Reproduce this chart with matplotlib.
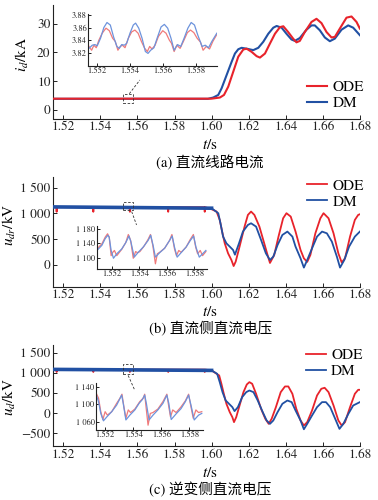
import matplotlib
matplotlib.use('Agg')
import matplotlib.pyplot as plt
import numpy as np

plt.rcParams['font.family'] = ['STIXGeneral', 'Noto Sans CJK SC']
plt.rcParams['mathtext.fontset'] = 'stix'

RED = '#e8232b'
BLUE = '#2150a3'
RED_L = '#f07a7a'
BLUE_L = '#6d93dc'

# ---- (a) dc line current, kA ----
t_a_ode = [1.5146, 1.6000, 1.6045, 1.6067, 1.6090, 1.6117, 1.6144, 1.6171, 1.6189, 1.6216,
           1.6243, 1.6261, 1.6288, 1.6315, 1.6342, 1.6369, 1.6387, 1.6413, 1.6440, 1.6458,
           1.6476, 1.6503, 1.6539, 1.6566, 1.6593, 1.6620, 1.6647, 1.6665, 1.6692, 1.6728,
           1.6755, 1.6782, 1.6800]
i_a_ode = [3.9, 3.9, 4.3, 5.2, 8.1, 13.3, 18.5, 21.0, 21.3, 20.2,
           18.7, 18.2, 19.6, 23.1, 26.5, 28.8, 29.1, 27.1, 24.8, 23.5,
           24.0, 27.1, 30.6, 31.7, 30.2, 27.1, 25.2, 25.4, 28.3, 32.1,
           32.5, 30.6, 28.3]
t_a_dm = [1.5146, 1.5980, 1.6009, 1.6036, 1.6054, 1.6081, 1.6108, 1.6126, 1.6144, 1.6162,
          1.6189, 1.6225, 1.6252, 1.6279, 1.6306, 1.6333, 1.6351, 1.6378, 1.6404, 1.6431,
          1.6449, 1.6476, 1.6512, 1.6539, 1.6557, 1.6584, 1.6611, 1.6638, 1.6665, 1.6701,
          1.6737, 1.6764, 1.6800]
i_a_dm = [3.85, 3.85, 4.3, 5.2, 7.5, 12.1, 16.7, 19.6, 21.1, 21.6,
          21.3, 20.8, 21.6, 23.7, 26.5, 28.6, 29.2, 28.6, 26.5, 24.5,
          24.0, 25.0, 27.9, 29.4, 29.4, 27.7, 25.2, 23.9, 24.8, 27.9,
          29.4, 28.6, 26.0]

# inset (a)
ti_a_dm = [1.55154, 1.55174, 1.55190, 1.55204, 1.55224, 1.55244, 1.55263, 1.55283, 1.55303, 1.55323,
           1.55337, 1.55352, 1.55368, 1.55382, 1.55402, 1.55422, 1.55436, 1.55455, 1.55475, 1.55495,
           1.55511, 1.55527, 1.55547, 1.55566, 1.55590, 1.55610, 1.55630, 1.55650, 1.55669, 1.55689,
           1.55709, 1.55729, 1.55752, 1.55772, 1.55792, 1.55812, 1.55838, 1.55857, 1.55877, 1.55897,
           1.55927]
vi_a_dm = [3.827, 3.832, 3.833, 3.831, 3.843, 3.860, 3.868, 3.864, 3.845, 3.830,
           3.827, 3.833, 3.832, 3.835, 3.851, 3.864, 3.867, 3.859, 3.843, 3.822,
           3.819, 3.824, 3.828, 3.843, 3.861, 3.865, 3.859, 3.843, 3.824, 3.833,
           3.830, 3.843, 3.859, 3.868, 3.864, 3.848, 3.830, 3.832, 3.828, 3.838,
           3.851]
ti_a_ode = [1.55154, 1.55170, 1.55184, 1.55198, 1.55214, 1.55234, 1.55257, 1.55277, 1.55297, 1.55313,
            1.55329, 1.55343, 1.55356, 1.55372, 1.55392, 1.55412, 1.55432, 1.55451, 1.55471, 1.55491,
            1.55507, 1.55521, 1.55535, 1.55554, 1.55574, 1.55600, 1.55620, 1.55640, 1.55653, 1.55669,
            1.55685, 1.55705, 1.55725, 1.55749, 1.55768, 1.55788, 1.55808, 1.55828, 1.55844, 1.55863,
            1.55883, 1.55903, 1.55927]
vi_a_ode = [3.830, 3.824, 3.832, 3.828, 3.840, 3.851, 3.859, 3.855, 3.843, 3.838,
            3.824, 3.830, 3.832, 3.828, 3.843, 3.853, 3.856, 3.851, 3.838, 3.827,
            3.822, 3.830, 3.826, 3.832, 3.846, 3.855, 3.851, 3.840, 3.835, 3.822,
            3.832, 3.827, 3.838, 3.852, 3.856, 3.852, 3.843, 3.837, 3.824, 3.830,
            3.826, 3.838, 3.849]

# ---- (b) rectifier dc voltage, kV ----
t_b_ode = [1.5146, 1.5162, 1.5164, 1.5166, 1.5360, 1.5362, 1.5364, 1.5557, 1.5559, 1.5561,
           1.5764, 1.5766, 1.5768, 1.5961, 1.5963, 1.5965,
           1.6000, 1.6027, 1.6044, 1.6059, 1.6071, 1.6089, 1.6107, 1.6119, 1.6130, 1.6151,
           1.6178, 1.6196, 1.6213, 1.6231, 1.6258, 1.6284, 1.6302, 1.6315, 1.6338, 1.6361,
           1.6386, 1.6404, 1.6427, 1.6453, 1.6480, 1.6498, 1.6516, 1.6533, 1.6560, 1.6587,
           1.6604, 1.6631, 1.6658, 1.6684, 1.6702, 1.6720, 1.6747, 1.6773, 1.6791, 1.6800]
u_b_ode = [1120, 1120, 1030, 1120, 1120, 1030, 1120, 1120, 1030, 1120,
           1120, 1030, 1120, 1120, 1030, 1120,
           1080, 1035, 873, 614, 420, 226, 97, -20, 65, 356,
           744, 970, 1035, 970, 744, 420, 194, 40, 194, 550,
           905, 1003, 938, 647, 291, 129, 60, 194, 614, 905,
           1003, 905, 614, 226, 50, 129, 550, 873, 970, 983]
t_b_dm = [1.5146, 1.6000, 1.6036, 1.6048, 1.6062, 1.6080, 1.6098, 1.6116, 1.6126, 1.6148,
          1.6169, 1.6196, 1.6213, 1.6240, 1.6267, 1.6293, 1.6315, 1.6333, 1.6356, 1.6382,
          1.6409, 1.6436, 1.6453, 1.6480, 1.6498, 1.6516, 1.6542, 1.6569, 1.6596, 1.6622,
          1.6649, 1.6676, 1.6693, 1.6716, 1.6742, 1.6773, 1.6800]
u_b_dm = [1125, 1100, 1003, 808, 550, 420, 356, 291, 200, 420,
          647, 776, 808, 744, 485, 226, 97, 162, 388, 582,
          647, 550, 356, 129, -50, 97, 323, 550, 647, 614,
          453, 162, -50, 97, 356, 550, 647]

# inset (b)
ti_b_dm = [1.55092, 1.55128, 1.55152, 1.55171, 1.55181, 1.55195, 1.55212, 1.55236, 1.55272, 1.55301,
           1.55325, 1.55339, 1.55363, 1.55392, 1.55428, 1.55464, 1.55483, 1.55500, 1.55517, 1.55548,
           1.55584, 1.55620, 1.55639, 1.55656, 1.55675, 1.55704, 1.55740, 1.55771, 1.55795, 1.55812,
           1.55836, 1.55860, 1.55884]
vi_b_dm = [1121, 1135, 1153, 1162, 1157, 1121, 1100, 1112, 1125, 1142,
           1160, 1144, 1103, 1116, 1130, 1148, 1162, 1135, 1103, 1115,
           1127, 1148, 1160, 1130, 1103, 1115, 1130, 1148, 1160, 1130,
           1103, 1112, 1121]
ti_b_ode = [1.55092, 1.55128, 1.55152, 1.55169, 1.55181, 1.55195, 1.55207, 1.55219, 1.55236, 1.55272,
            1.55301, 1.55320, 1.55337, 1.55356, 1.55373, 1.55387, 1.55404, 1.55435, 1.55464, 1.55481,
            1.55498, 1.55517, 1.55531, 1.55548, 1.55584, 1.55620, 1.55637, 1.55656, 1.55670, 1.55687,
            1.55704, 1.55740, 1.55771, 1.55793, 1.55810, 1.55824, 1.55843, 1.55860, 1.55884]
vi_b_ode = [1125, 1139, 1157, 1166, 1157, 1107, 1116, 1121, 1107, 1124,
            1142, 1164, 1148, 1100, 1118, 1115, 1118, 1133, 1151, 1164,
            1135, 1085, 1112, 1116, 1127, 1148, 1164, 1125, 1107, 1121,
            1116, 1130, 1151, 1164, 1130, 1112, 1121, 1107, 1118]

# ---- (c) inverter dc voltage, kV ----
t_c_ode = [1.5146, 1.5162, 1.5164, 1.5166, 1.5360, 1.5362, 1.5364, 1.5557, 1.5559, 1.5561,
           1.5764, 1.5766, 1.5768, 1.5961, 1.5963, 1.5965,
           1.6000, 1.6027, 1.6041, 1.6053, 1.6066, 1.6080, 1.6098, 1.6112, 1.6121, 1.6133,
           1.6151, 1.6172, 1.6190, 1.6204, 1.6219, 1.6240, 1.6267, 1.6290, 1.6308, 1.6324,
           1.6347, 1.6373, 1.6396, 1.6414, 1.6436, 1.6457, 1.6480, 1.6498, 1.6516, 1.6542,
           1.6569, 1.6592, 1.6610, 1.6631, 1.6658, 1.6684, 1.6702, 1.6720, 1.6747, 1.6773,
           1.6791, 1.6800]
u_c_ode = [1080, 1080, 1020, 1080, 1080, 1020, 1080, 1080, 1020, 1080,
           1080, 1020, 1080, 1080, 1020, 1080,
           1060, 976, 935, 728, 480, 232, 25, -99, -223, -99,
           190, 521, 711, 769, 728, 480, 108, -141, -265, -141,
           149, 521, 662, 662, 480, 108, -182, -306, -223, 66,
           438, 604, 629, 521, 190, -182, -306, -223, 149, 480,
           579, 579]
t_c_dm = [1.5146, 1.6000, 1.6030, 1.6044, 1.6059, 1.6076, 1.6094, 1.6112, 1.6124, 1.6142,
          1.6165, 1.6187, 1.6204, 1.6226, 1.6249, 1.6276, 1.6297, 1.6315, 1.6333, 1.6356,
          1.6382, 1.6409, 1.6432, 1.6453, 1.6480, 1.6498, 1.6516, 1.6542, 1.6569, 1.6596,
          1.6617, 1.6640, 1.6667, 1.6690, 1.6711, 1.6738, 1.6764, 1.6800]
u_c_dm = [1085, 1060, 976, 769, 521, 314, 232, 149, 50, 149,
          397, 521, 562, 521, 314, 25, -182, -265, -182, 25,
          232, 314, 273, 66, -182, -400, -265, -58, 149, 273,
          273, 149, -141, -390, -265, -17, 190, 273]

# inset (c)
ti_c_dm = [1.55137, 1.55153, 1.55169, 1.55188, 1.55212, 1.55247, 1.55282, 1.55301, 1.55318, 1.55329,
           1.55348, 1.55376, 1.55412, 1.55442, 1.55466, 1.55482, 1.55494, 1.55513, 1.55541, 1.55576,
           1.55612, 1.55640, 1.55654, 1.55671, 1.55706, 1.55741, 1.55772, 1.55795, 1.55812, 1.55835,
           1.55866, 1.55889]
vi_c_dm = [1121, 1106, 1079, 1062, 1071, 1083, 1098, 1110, 1121, 1102,
           1064, 1075, 1087, 1102, 1111, 1121, 1102, 1064, 1075, 1087,
           1102, 1121, 1102, 1065, 1078, 1090, 1106, 1121, 1098, 1064,
           1075, 1079]
ti_c_ode = [1.55137, 1.55153, 1.55169, 1.55184, 1.55200, 1.55216, 1.55247, 1.55282, 1.55306, 1.55320,
            1.55334, 1.55348, 1.55365, 1.55381, 1.55412, 1.55447, 1.55471, 1.55482, 1.55494, 1.55506,
            1.55522, 1.55541, 1.55576, 1.55612, 1.55640, 1.55654, 1.55666, 1.55682, 1.55706, 1.55741,
            1.55772, 1.55795, 1.55812, 1.55828, 1.55847, 1.55866, 1.55889]
vi_c_ode = [1125, 1114, 1083, 1065, 1083, 1075, 1083, 1102, 1114, 1123,
            1094, 1068, 1087, 1081, 1089, 1106, 1114, 1123, 1087, 1052,
            1079, 1081, 1089, 1106, 1123, 1094, 1071, 1087, 1081, 1094,
            1108, 1123, 1094, 1068, 1087, 1081, 1083]

x_ticks = [1.52, 1.54, 1.56, 1.58, 1.60, 1.62, 1.64, 1.66, 1.68]
inset_x_ticks = [1.552, 1.554, 1.556, 1.558]


def style_axes(ax, size=9.5, length=3):
    for s in ['top', 'right']:
        ax.spines[s].set_visible(False)
    for s in ['left', 'bottom']:
        ax.spines[s].set_linewidth(0.8)
        ax.spines[s].set_color('#222222')
    ax.tick_params(direction='in', length=length, width=0.7, labelsize=size, pad=2, colors='#222222')


def main_axes(rect, ylim, yticks, ylabels):
    ax = fig.add_axes(rect)
    style_axes(ax)
    ax.set_xlim(1.5146, 1.68)
    ax.set_ylim(*ylim)
    ax.set_xticks(x_ticks)
    ax.set_xticklabels(['%.2f' % v for v in x_ticks])
    ax.set_yticks(yticks)
    ax.set_yticklabels(ylabels)
    return ax


def inset_axes(rect, xlim, ylim, yticks, ylabels):
    ax = fig.add_axes(rect)
    style_axes(ax, size=6, length=2)
    ax.patch.set_alpha(0)
    ax.set_xlim(*xlim)
    ax.set_ylim(*ylim)
    ax.set_xticks(inset_x_ticks)
    ax.set_xticklabels(['%.3f' % v for v in inset_x_ticks])
    ax.set_yticks(yticks)
    ax.set_yticklabels(ylabels)
    ax.tick_params(pad=1)
    return ax


def zoom_box(ax, x0, x1, y0, y1, lx, ly):
    ax.plot([x0, x1, x1, x0, x0], [y0, y0, y1, y1, y0], ls=(0, (3, 2)), lw=0.6, color='#333333', zorder=5)
    ax.plot(lx, ly, ls=(0, (3, 2)), lw=0.6, color='#333333', zorder=5)


def add_legend(ax, handles, x, y):
    ax.legend(handles, ['ODE', 'DM'], loc='center left', bbox_to_anchor=(x, y),
              bbox_transform=fig.transFigure, frameon=False, fontsize=11,
              handlelength=1.3, handletextpad=0.35, labelspacing=0.15, borderpad=0)


fig = plt.figure(figsize=(3.78, 5.0), dpi=100)

# (a)
ax = main_axes([0.141, 0.763, 0.811, 0.227], (-3, 36.5), [0, 10, 20, 30], ['0', '10', '20', '30'])
l2, = ax.plot(t_a_dm, i_a_dm, color=BLUE, lw=1.5, zorder=2)
l1, = ax.plot(t_a_ode, i_a_ode, color=RED, lw=1.5, zorder=3)
add_legend(ax, [l1, l2], 0.792, 0.809)
zoom_box(ax, 1.5520, 1.5577, 2.5, 5.4, [1.5556, 1.5613], [5.6, 10.4])
ia = inset_axes([0.2336, 0.868, 0.3413, 0.1034], (1.5515, 1.5593), (3.799, 3.881),
                [3.82, 3.84, 3.86, 3.88], ['3.82', '3.84', '3.86', '3.88'])
ia.plot(ti_a_ode, vi_a_ode, color=RED_L, lw=0.9)
ia.plot(ti_a_dm, vi_a_dm, color=BLUE_L, lw=0.9)
fig.text(0.060, 0.89, '$i_d$/kA', rotation=90, ha='center', va='center', fontsize=11)
fig.text(0.556, 0.710, '$t$/s', ha='center', va='center', fontsize=11)
fig.text(0.556, 0.674, '(a) 直流线路电流', ha='center', va='center', fontsize=10.5)

# (b)
ax = main_axes([0.141, 0.4266, 0.811, 0.22], (-420, 1710), [0, 500, 1000, 1500],
               ['0', '500', '1 000', '1 500'])
t_b_dm_a = np.array(t_b_dm)
l1, = ax.plot(t_b_ode, u_b_ode, color=RED, lw=1.3, zorder=2)
l2, = ax.plot(t_b_dm, u_b_dm, color=BLUE, lw=1.3, zorder=3)
pre = t_b_dm_a <= 1.6
ax.plot(t_b_dm_a[pre], np.array(u_b_dm)[pre], color=BLUE, lw=2.6, zorder=3)
add_legend(ax, [l1, l2], 0.792, 0.6126)
zoom_box(ax, 1.5523, 1.5577, 1067, 1228, [1.5569, 1.5595], [1034, 776])
ib = inset_axes([0.2558, 0.462, 0.291, 0.086], (1.5509, 1.5589), (1071, 1187),
                [1100, 1140, 1180], ['1 100', '1 140', '1 180'])
ib.plot(ti_b_ode, vi_b_ode, color=RED_L, lw=0.9)
ib.plot(ti_b_dm, vi_b_dm, color=BLUE_L, lw=0.9)
fig.text(0.026, 0.55, '$u_{dr}$/kV', rotation=90, ha='center', va='center', fontsize=11)
fig.text(0.556, 0.3766, '$t$/s', ha='center', va='center', fontsize=11)
fig.text(0.556, 0.344, '(b) 直流侧直流电压', ha='center', va='center', fontsize=10.5)

# (c)
ax = main_axes([0.141, 0.108, 0.811, 0.202], (-815, 1690), [-500, 0, 500, 1000, 1500],
               ['\u2212500', '0', '500', '1 000', '1 500'])
t_c_dm_a = np.array(t_c_dm)
l1, = ax.plot(t_c_ode, u_c_ode, color=RED, lw=1.3, zorder=2)
l2, = ax.plot(t_c_dm, u_c_dm, color=BLUE, lw=1.3, zorder=3)
pre = t_c_dm_a <= 1.6
ax.plot(t_c_dm_a[pre], np.array(u_c_dm)[pre], color=BLUE, lw=2.6, zorder=3)
add_legend(ax, [l1, l2], 0.789, 0.273)
zoom_box(ax, 1.5520, 1.5574, 978, 1226, [1.5550, 1.5586], [935, 563])
ic = inset_axes([0.254, 0.14, 0.2839, 0.0934], (1.55135, 1.5590), (1041, 1148),
                [1060, 1100, 1140], ['1 060', '1 100', '1 140'])
ic.plot(ti_c_ode, vi_c_ode, color=RED_L, lw=0.9)
ic.plot(ti_c_dm, vi_c_dm, color=BLUE_L, lw=0.9)
fig.text(0.026, 0.206, '$u_{d}$/kV', rotation=90, ha='center', va='center', fontsize=11)
fig.text(0.556, 0.0546, '$t$/s', ha='center', va='center', fontsize=11)
fig.text(0.556, 0.020, '(c) 逆变侧直流电压', ha='center', va='center', fontsize=10.5)

fig.savefig('out.png', dpi=100)
